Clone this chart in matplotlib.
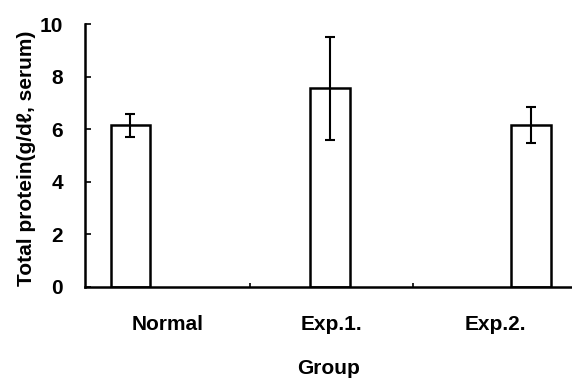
import matplotlib
matplotlib.use("Agg")
import matplotlib.pyplot as plt
import numpy as np

groups = ["Normal", "Exp.1.", "Exp.2."]
means = [6.15, 7.55, 6.15]
errors = [0.43, 1.95, 0.68]

# layout (category index units)
label_pos = np.arange(len(groups))
bar_shift = [-0.23, -0.01, 0.22]
bar_width = 0.24

plt.rcParams['font.family'] = ['Liberation Sans', 'DejaVu Sans']

fig = plt.figure(figsize=(5.72, 3.81), dpi=100)
ax = fig.add_axes([85/572, 1-287/381, 1-85/572, (287-24)/381])

bx = label_pos + np.array(bar_shift)
ax.bar(bx, means, width=bar_width, color='white', edgecolor='black', linewidth=1.8)
ax.errorbar(bx, means, yerr=errors, fmt='none', ecolor='black', elinewidth=1.5,
            capsize=3.5, capthick=1.5)

ax.set_xlim(-0.508, 2.47)
ax.set_ylim(0, 10)
ax.set_yticks([0, 2, 4, 6, 8, 10])
ax.set_xticks(label_pos)
ax.set_xticklabels(groups)
ax.set_xticks([0.5, 1.5], minor=True)
ax.tick_params(axis='x', which='major', length=0, pad=20, labelsize=15)
ax.tick_params(axis='x', which='minor', direction='in', length=3, width=1.2)
ax.tick_params(axis='y', direction='in', length=4, width=1.2, pad=16, labelsize=15)
for s in ['top', 'right']:
    ax.spines[s].set_visible(False)
for s in ['left', 'bottom']:
    ax.spines[s].set_linewidth(1.8)

ax.set_ylabel("Total protein(g/dℓ, serum)", fontsize=15)
ax.yaxis.set_label_coords(-0.10, 0.49)
ax.set_xlabel("Group", fontsize=15, labelpad=18)
for t in ax.get_xticklabels() + ax.get_yticklabels():
    t.set_fontweight('bold')
ax.xaxis.label.set_fontweight('bold')
ax.yaxis.label.set_fontweight('bold')

fig.savefig("out.png", dpi=100)
